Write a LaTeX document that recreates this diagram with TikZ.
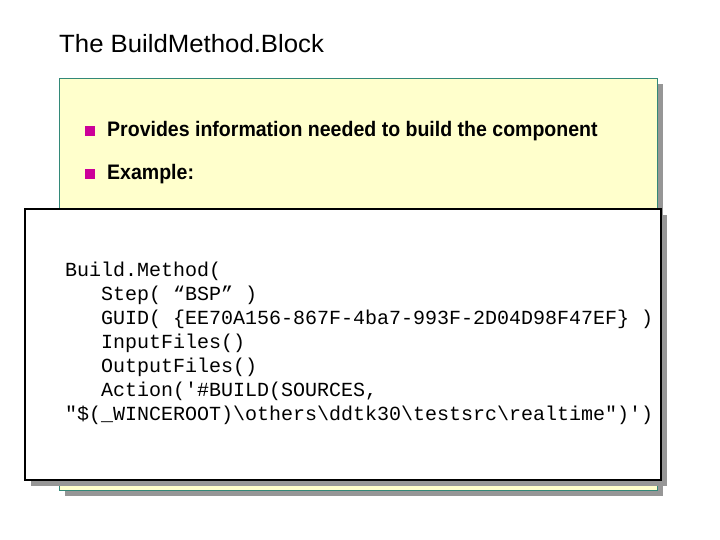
\documentclass[tikz,border=0pt]{standalone}
\usepackage{fontspec}
\setmainfont{Liberation Sans}
\setmonofont{Liberation Mono}
\definecolor{ylw}{RGB}{255,255,204}
\definecolor{tealb}{RGB}{51,136,120}
\definecolor{shd}{RGB}{150,150,150}
\definecolor{mag}{RGB}{204,0,153}
\tikzset{
 bullet/.style={fill=mag,minimum size=10pt,inner sep=0pt},
 btxt/.style={anchor=west,inner sep=0pt,font=\fontsize{21}{24}\selectfont\bfseries},
 code/.style={anchor=north west,inner sep=0pt,align=left,font=\fontsize{20}{24}\selectfont\ttfamily}
}
\begin{document}
\begin{tikzpicture}[x=1pt,y=-1pt]
\useasboundingbox (0,0) rectangle (720,540);
\node[anchor=west,inner sep=0pt,font=\fontsize{25}{28}\selectfont] (title) at (59,44) {\scalebox{1.03}[1]{The BuildMethod.Block}};
\fill[shd] (65,84) rectangle (663,496);
\draw[tealb,thick,fill=ylw] (59,78) rectangle (657,490);
\node[bullet] (b1) at (90,131) {};
\node[btxt] (t1) at (107,131) {\scalebox{0.93}[1]{Provides information needed to build the component}};
\node[bullet] (b2) at (90,174) {};
\node[btxt] (t2) at (107,174) {\scalebox{0.93}[1]{Example:}};
\fill[shd] (31,215) rectangle (667,486);
\draw[black,line width=1.5pt,fill=white] (25,209) rectangle (661,480);
\node[code] (c) at (65,262) {Build.Method(\\
\ \ \ Step( “BSP” )\\
\ \ \ GUID( \{EE70A156-867F-4ba7-993F-2D04D98F47EF\} )\\
\ \ \ InputFiles()\\
\ \ \ OutputFiles()\\
\ \ \ Action('\#BUILD(SOURCES,\\
"\$(\_WINCEROOT)\textbackslash others\textbackslash ddtk30\textbackslash testsrc\textbackslash realtime")')};
\end{tikzpicture}
\end{document}
